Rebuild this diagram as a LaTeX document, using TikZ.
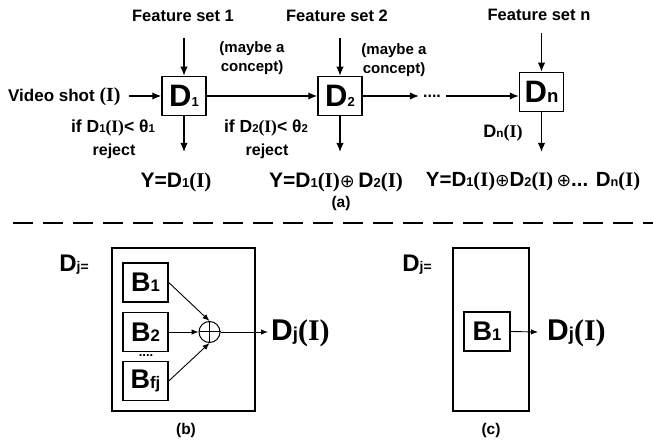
\documentclass[tikz,border=0pt]{standalone}
\usepackage{fontspec}
\usepackage{graphicx}
\setmainfont{Liberation Sans}
\newfontfamily\rmI{Liberation Serif}
\newfontfamily\dv{DejaVu Sans}
\usetikzlibrary{arrows.meta}
% font size shortcut, small baseline-aligned index, serif (I), sum sign
\newcommand\fs[1]{\fontsize{#1}{#1}\selectfont}
\newcommand\lo[2][0.62]{\scalebox{#1}{#2}}
\newcommand\Ib{{\rmI\bfseries (I)}}
\newcommand\op{{\dv\mdseries\scalebox{0.85}{⊕}}}

\begin{document}
\begin{tikzpicture}[x=1pt,y=-1pt,font=\bfseries,
  blk/.style={draw,line width=1.5pt,minimum width=44pt,minimum height=39pt,inner sep=0pt},
  frame/.style={draw,line width=1.5pt,inner sep=0pt},
  arr/.style={-{Latex[length=9pt,width=7.5pt]},line width=1.4pt},
  tarr/.style={-{Latex[length=7pt,width=5.5pt]},line width=0.9pt},
  lbl/.style={inner sep=0pt,align=center},
  note/.style={lbl,font=\bfseries\fontsize{15}{19}\selectfont},
]
\useasboundingbox (0,0) rectangle (653,443);

% ---------- (a) cascade of detectors ----------
\node[blk] (d1) at (184,96) {\fs{31}D\lo[0.42]{1}};
\node[blk] (d2) at (340,96) {\fs{31}D\lo[0.42]{2}};
\node[blk] (dn) at (541.5,92) {\fs{31}D\lo[0.6]{n}};

\node[lbl] (f1) at (183,16) {\fs{16.5}Feature set 1};
\node[lbl] (f2) at (337,16) {\fs{16.5}Feature set 2};
\node[lbl] (fn) at (539,15) {\fs{16.5}Feature set n};
\coordinate (f1e) at (184,38);
\coordinate (f2e) at (340,38);
\coordinate (fne) at (541.5,33);
\draw[arr] (f1e) -- (d1);
\draw[arr] (f2e) -- (d2);
\draw[arr] (fne) -- (dn);

\node[lbl,anchor=west] (vid) at (8,97) {\fs{17}Video shot \fs{20}\Ib};
\draw[arr] ([xshift=8pt]vid.east |- d1.west) -- (d1.west);

\node[note] (m1) at (252,58) {(maybe a\\concept)};
\node[note] (m2) at (394,60) {(maybe a\\concept)};

\draw[arr] (d1.east) -- (d2.west);
\node[lbl,anchor=base] (dots) at (432,98) {\fs{16}....};
\draw[arr] (d2.east) -- ([xshift=-4pt]dots.west |- d2.east);
\draw[arr] ([xshift=5pt]dots.east |- d2.east) -- (dn.west |- d2.east);

\coordinate (o1) at (184,152);
\coordinate (o2) at (340,152);
\coordinate (on) at (541.5,152);
\draw[arr] (d1) -- (o1);
\draw[arr] (d2) -- (o2);
\draw[arr] (dn) -- (on);

\node[lbl] (c1) at (113,128.5) {\fs{17.5}if D\lo[0.65]{1}\Ib< θ\lo[0.65]{1}};
\node[lbl] (r1) at (114,151) {\fs{16}reject};
\node[lbl] (c2) at (266,128.5) {\fs{17.5}if D\lo[0.65]{2}\Ib< θ\lo[0.65]{2}};
\node[lbl] (r2) at (267,151) {\fs{16}reject};
\node[lbl] (dnI) at (503,133.5) {\fs{18}D\lo[0.65]{n}\Ib};

\node[lbl] (y1) at (176,182) {\fs{21}Y=D\lo{1}\Ib};
\node[lbl] (y2) at (336,182) {\fs{21}Y=D\lo{1}\Ib\op\,D\lo{2}\Ib};
\node[lbl] (yn) at (533,182) {\fs{20.5}Y=D\lo{1}\Ib\op D\lo{2}\Ib\,\op... D\lo{n}\Ib};
\node[lbl] (capa) at (341,203) {\fs{15.5}(a)};

% ---------- separator ----------
\coordinate (sl) at (13,223);
\coordinate (sr) at (653,223);
\draw[line width=2.5pt,dash pattern=on 20pt off 10pt] (sl) -- (sr);

% ---------- (b) detector made of several base classifiers ----------
\node[lbl] (djb) at (74,265) {\fs{24}D\lo[0.58]{j=}};
\node[frame,minimum width=143pt,minimum height=163pt] (fb) at (183.5,329.5) {};
\node[blk,minimum width=45pt] (b1) at (145.5,282.5) {\fs{27}B\lo{1}};
\node[blk,minimum width=45pt] (b2) at (145.5,332) {\fs{27}B\lo{2}};
\node[lbl,anchor=base] (bdots) at (146,356) {\fs{13}....};
\node[blk,minimum width=45pt] (bf) at (145.5,381) {\fs{27}B\lo{fj}};
\node[circle,draw,line width=1pt,minimum size=21pt,inner sep=0pt] (sum) at (209.5,332) {};
\draw[line width=1pt] (sum.north) -- (sum.south) (sum.west) -- (sum.east);
\draw[tarr] (b1.east) -- (sum.north);
\draw[tarr] (b2.east) -- (sum.west);
\draw[tarr] (bf.east) -- (sum.south);
\coordinate (ob) at (268,332);
\draw[tarr] (sum.east) -- (ob);
\node[lbl,anchor=west] (outb) at (271,333) {\fs{30}D\lo{j}\Ib};
\node[lbl] (capb) at (186,430) {\fs{15.5}(b)};

% ---------- (c) detector with a single base classifier ----------
\node[lbl] (djc) at (417,265) {\fs{24}D\lo[0.58]{j=}};
\node[frame,minimum width=76pt,minimum height=163pt] (fc) at (491,329.5) {};
\node[blk,minimum width=46pt] (cb1) at (487,331.5) {\fs{27}B\lo{1}};
\coordinate (oc) at (538,332);
\draw[tarr] (cb1.east) -- (oc);
\node[lbl,anchor=west] (outc) at (547,333) {\fs{30}D\lo{j}\Ib};
\node[lbl] (capc) at (491,430) {\fs{15.5}(c)};
\end{tikzpicture}
\end{document}
